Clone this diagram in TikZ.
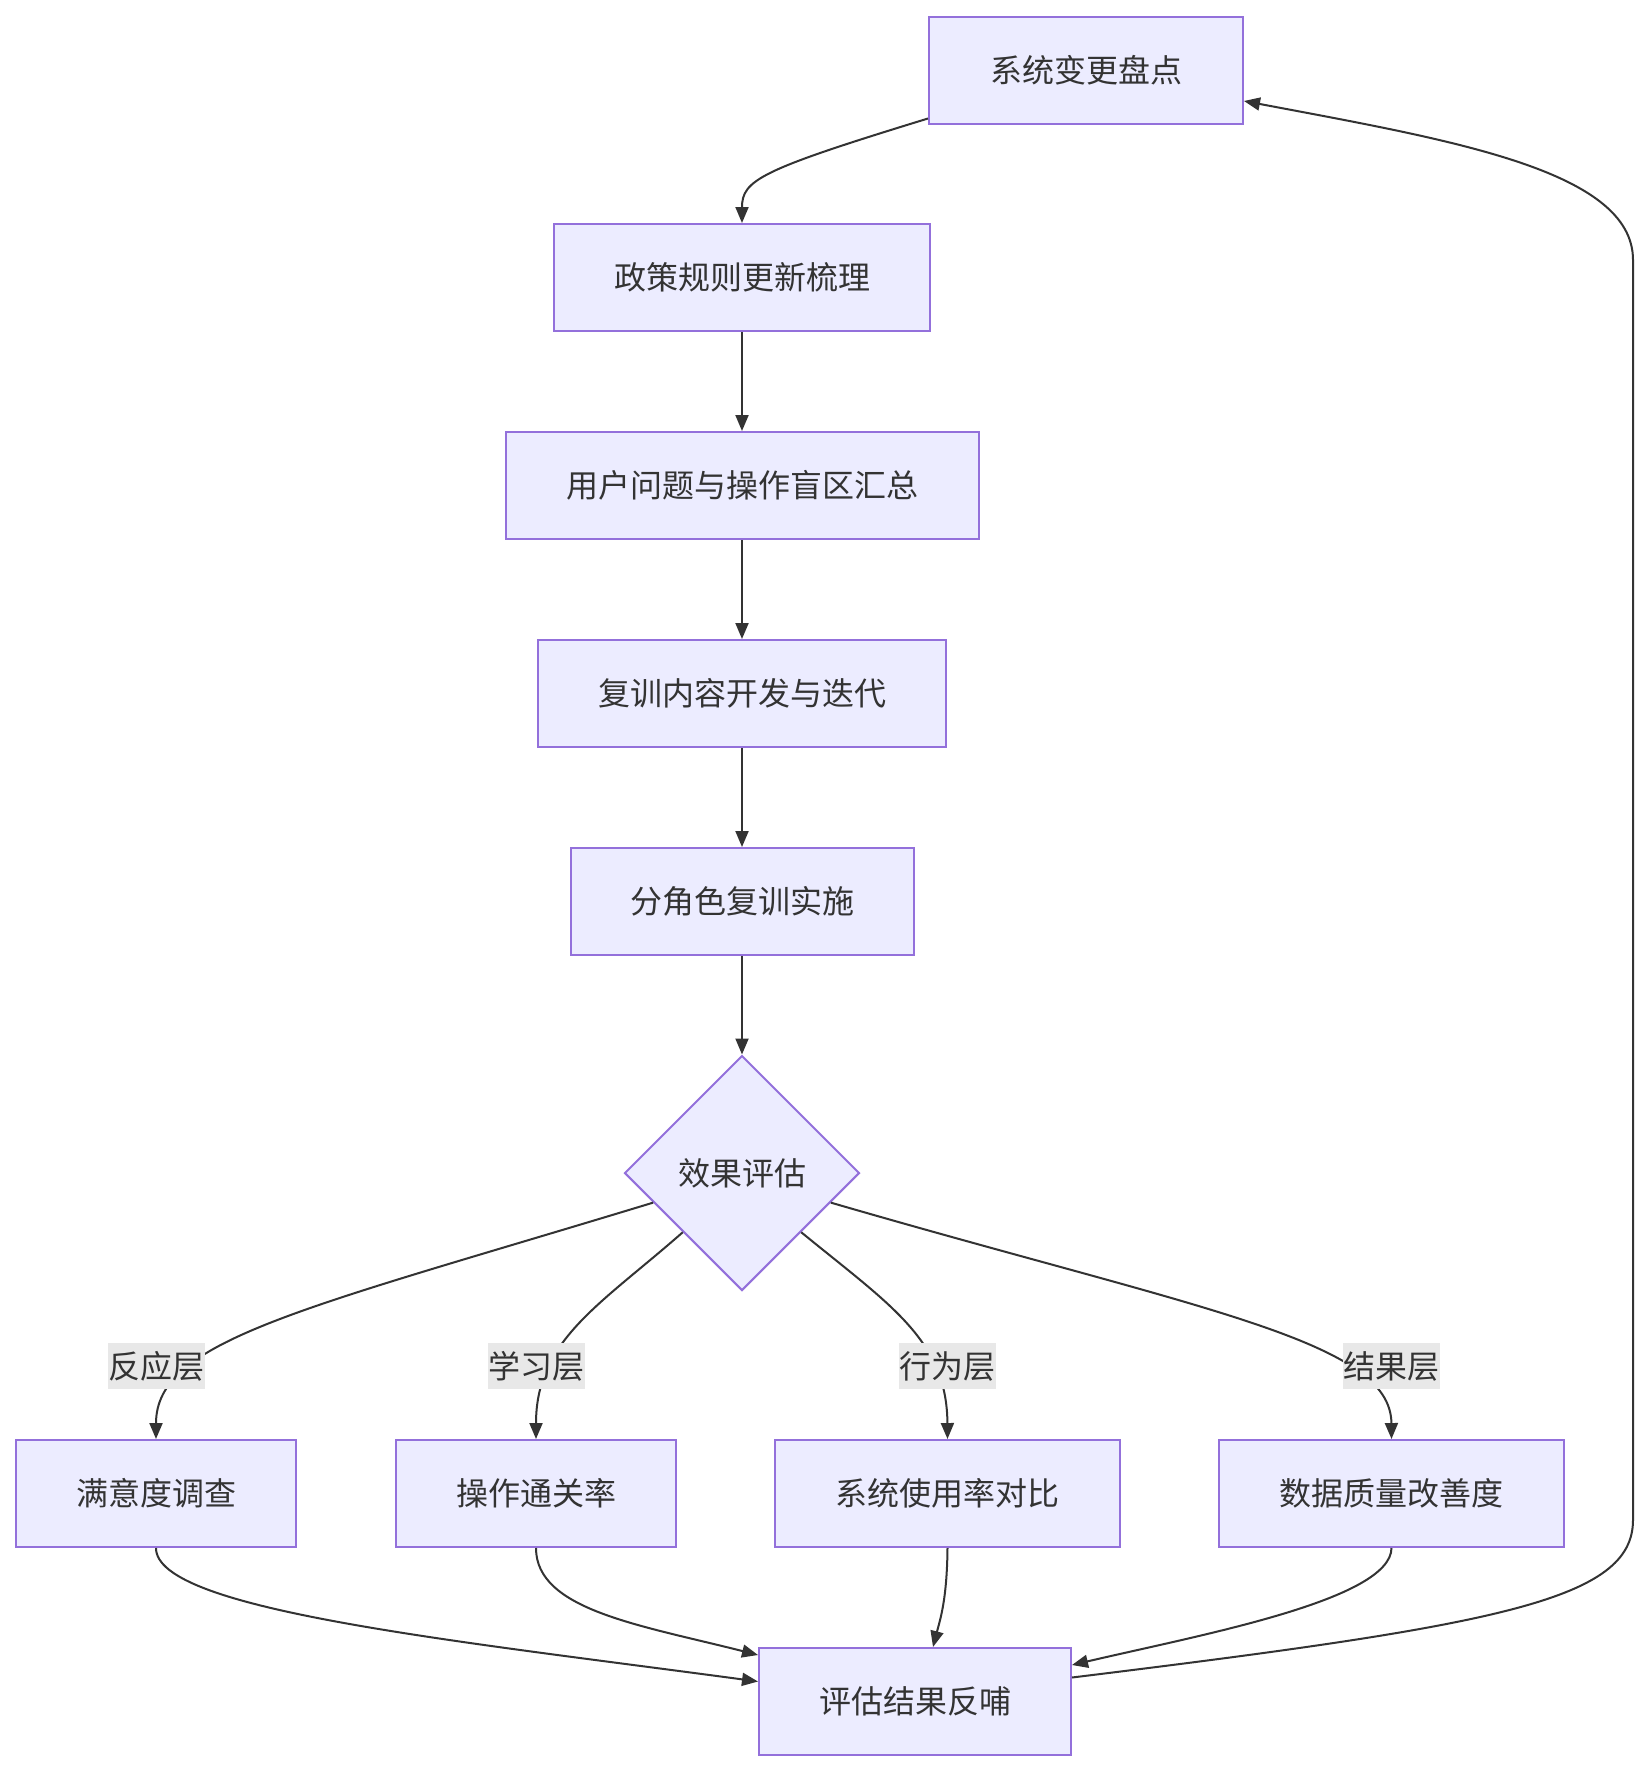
\documentclass[tikz,border=0pt]{standalone}
\usepackage{fontspec}
\setmainfont{Noto Sans CJK SC}
\usetikzlibrary{shapes.geometric,arrows.meta,calc}
\definecolor{boxfill}{HTML}{ECECFF}
\definecolor{boxline}{HTML}{9370DB}
\definecolor{ink}{HTML}{333333}
\definecolor{lblbg}{HTML}{E8E8E8}
\begin{document}
\begin{tikzpicture}[x=1pt,y=-1pt,
  font=\fontsize{32}{38}\selectfont,
  box/.style={draw=boxline,fill=boxfill,line width=2pt,minimum height=107pt,inner sep=0pt,text=ink},
  decision/.style={diamond,draw=boxline,fill=boxfill,line width=2pt,minimum width=235pt,minimum height=235pt,inner sep=0pt,text=ink},
  lbl/.style={fill=lblbg,inner sep=0pt,minimum height=46pt,minimum width=97pt,text=ink},
  edge/.style={draw=ink,line width=2pt,-{Triangle[length=16pt,width=13pt]}}]
\useasboundingbox (0,0) rectangle (1650,1772);
\fill[white] (0,0) rectangle (1650,1772);
% nodes
\node[box,minimum width=314pt] (A) at (1086,70) {系统变更盘点};
\node[box,minimum width=376pt] (B) at (742,277.5) {政策规则更新梳理};
\node[box,minimum width=473pt] (C) at (742,485.5) {用户问题与操作盲区汇总};
\node[box,minimum width=408pt] (D) at (742,693.5) {复训内容开发与迭代};
\node[box,minimum width=343pt] (E) at (742,901.5) {分角色复训实施};
\node[decision] (F) at (742,1173) {效果评估};
\node[box,minimum width=280pt] (G1) at (156,1493.5) {满意度调查};
\node[box,minimum width=280pt] (G2) at (536,1493.5) {操作通关率};
\node[box,minimum width=345pt] (G3) at (947.5,1493.5) {系统使用率对比};
\node[box,minimum width=345pt] (G4) at (1391.5,1493.5) {数据质量改善度};
\node[box,minimum width=312pt] (H) at (915,1701.5) {评估结果反哺};
% edges
\draw[edge] ($(A.south west)+(0,-6)$) .. controls (760,170) and (742,180) .. (B.north);
\draw[edge] (B) -- (C);
\draw[edge] (C) -- (D);
\draw[edge] (D) -- (E);
\draw[edge] (E) -- (F);
\draw[edge] ($(F.west)!0.25!(F.south)$) .. controls (300,1310) and (156,1340) .. (G1.north);
\draw[edge] (F.south west) .. controls (600,1305) and (536,1340) .. (G2.north);
\draw[edge] (F.south east) .. controls (890,1305) and (947,1340) .. (G3.north);
\draw[edge] ($(F.east)!0.25!(F.south)$) .. controls (1200,1310) and (1391,1340) .. (G4.north);
\draw[edge] (G1.south) .. controls (156,1610) and (450,1640) .. ($(H.west)+(0,-20)$);
\draw[edge] (G2.south) .. controls (536,1610) and (640,1625) .. ($(H.north west)+(0,8)$);
\draw[edge] (G3.south) .. controls (947,1600) and (940,1620) .. ($(H.north)+(18,0)$);
\draw[edge] (G4.south) .. controls (1391,1600) and (1200,1635) .. ($(H.north east)+(0,18)$);
\draw[edge] ($(H.east)+(0,-24)$) .. controls (1500,1625) and (1633,1600) .. (1633,1520)
  -- (1633,260) .. controls (1633,170) and (1450,140) .. ($(A.east)+(0,31)$);
% labels
\node[lbl] (L1) at (156,1366) {反应层};
\node[lbl] (L2) at (536,1366) {学习层};
\node[lbl] (L3) at (947,1366) {行为层};
\node[lbl] (L4) at (1391,1366) {结果层};
\end{tikzpicture}
\end{document}
